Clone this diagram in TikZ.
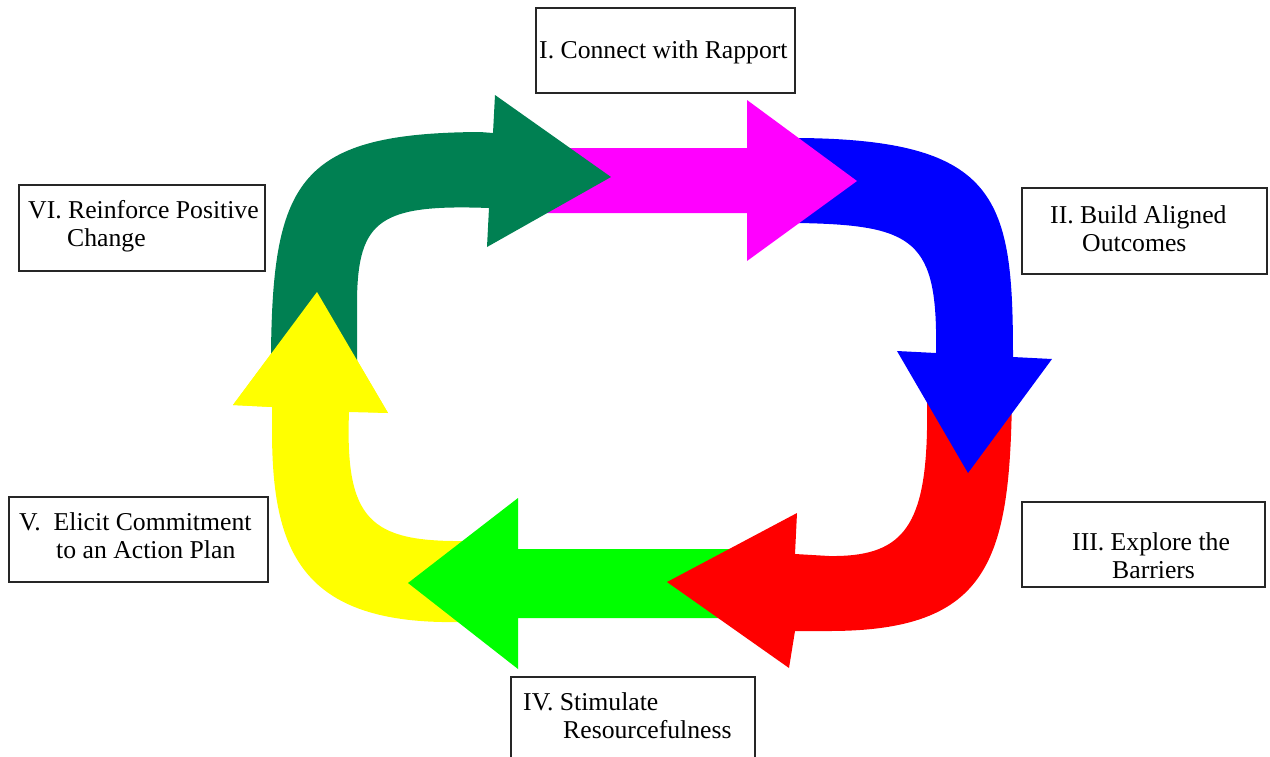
\documentclass[tikz,border=0pt]{standalone}
\usepackage{fontspec}
\setmainfont{Liberation Serif}
\definecolor{dgreen}{RGB}{0,128,82}
\definecolor{cmag}{RGB}{255,0,255}
\definecolor{cblue}{RGB}{0,0,255}
\definecolor{cred}{RGB}{255,0,0}
\definecolor{cgreen}{RGB}{0,255,0}
\definecolor{cyel}{RGB}{255,255,0}
\begin{document}
\begin{tikzpicture}[x=1pt,y=-1pt,
  box/.style={draw=black!85, line width=1.3pt, inner sep=0pt},
  lbl/.style={anchor=base west, inner sep=0pt, font=\fontsize{25.7}{30}\selectfont}]
\useasboundingbox (0,0) rectangle (1270,756);

% ---- arrows (order chosen so each head lies over the next arrow's tail)
% yellow (V -> VI)
\fill[cyel] (480,622) -- (460,622) .. controls (300,625) and (272,550) .. (272,430)
  -- (272,407) -- (233,405) -- (317,292) -- (388,413) -- (349,412)
  .. controls (345,520) and (370,542) .. (465,541) -- (480,541) -- cycle;
% bright green (IV -> V)
\fill[cgreen] (740,549) -- (518,549) -- (518,498) -- (408,583) -- (518,669)
  -- (518,618) -- (740,618) -- cycle;
% red (III -> IV)
\fill[cred] (1012,395) .. controls (1010,560) and (990,631) .. (829,631) -- (795,631)
  -- (789,668) -- (667,582) -- (797,513) -- (795,554) -- (829,556)
  .. controls (900,557) and (925,530) .. (927,430) -- (927,395) -- cycle;
% blue (II -> III)
\fill[cblue] (785,138) -- (800,138) .. controls (1000,140) and (1013,200) .. (1013,357)
  -- (1052,359) -- (968,473) -- (897,351) -- (936,353)
  .. controls (938,240) and (915,225) .. (798,223) -- (785,223) -- cycle;
% magenta (I -> II)
\fill[cmag] (540,148) -- (747,148) -- (747,100) -- (857,181) -- (747,261)
  -- (747,213) -- (540,213) -- cycle;
% dark green (VI -> I)
\fill[dgreen] (271,372) -- (271,352) .. controls (273,180) and (300,133) .. (480,132)
  -- (493,133) -- (495,95) -- (611,177) -- (487,247) -- (489,208)
  .. controls (380,204) and (358,220) .. (357,300) -- (357,372) -- cycle;
% yellow head over the dark green tail
\fill[cyel] (233,405) -- (317,292) -- (388,413) -- cycle;

% ---- boxes
\node[box, minimum width=259pt, minimum height=85pt] (boxI)   at (665.5,50.5) {};
\node[box, minimum width=245pt, minimum height=86pt] (boxII)  at (1144.5,231) {};
\node[box, minimum width=243pt, minimum height=85pt] (boxIII) at (1143.5,544.5) {};
\node[box, minimum width=244pt, minimum height=86pt] (boxIV)  at (633,720) {};
\node[box, minimum width=259pt, minimum height=85pt] (boxV)   at (138.5,539.5) {};
\node[box, minimum width=246pt, minimum height=86pt] (boxVI)  at (142,228) {};

% ---- labels
\node[lbl] (tI)    at (539,58)   {I. Connect with Rapport};
\node[lbl] (tIIa)  at (1050,223) {II. Build Aligned};
\node[lbl] (tIIb)  at (1082,251) {Outcomes};
\node[lbl] (tIIIa) at (1072,550) {III. Explore the};
\node[lbl] (tIIIb) at (1112,578) {Barriers};
\node[lbl] (tIVa)  at (523,710)  {IV. Stimulate};
\node[lbl] (tIVb)  at (563,738)  {Resourcefulness};
\node[lbl] (tVa)   at (19,530)   {V.\ \ Elicit Commitment};
\node[lbl] (tVb)   at (56,558)   {to an Action Plan};
\node[lbl] (tVIa)  at (28,218)   {VI. Reinforce Positive};
\node[lbl] (tVIb)  at (67,246)   {Change};
\end{tikzpicture}
\end{document}
